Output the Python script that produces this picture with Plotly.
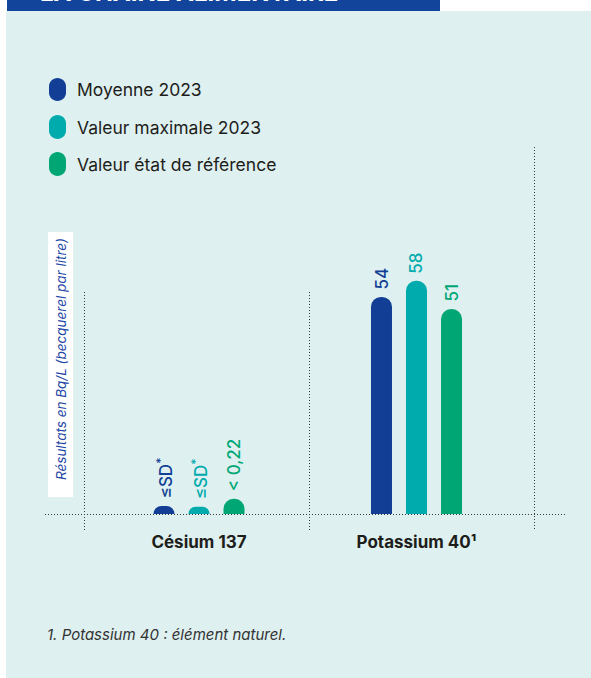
import math
import plotly.graph_objects as go

W, H = 591, 678

# ---- data ----
categories = ["Césium 137", "Potassium 40"]
category_labels = ["<b>Césium 137</b>", "<b>Potassium 40¹</b>"]
series_names = ["Moyenne 2023", "Valeur maximale 2023", "Valeur état de référence"]
moyenne_2023 = [2.0, 54]
valeur_max_2023 = [1.8, 58]
valeur_reference = [3.8, 51]
labels_moyenne = ["≤SD<sup>*</sup>", "54"]
labels_max = ["≤SD<sup>*</sup>", "58"]
labels_reference = ["< 0,22", "51"]
y_title = "Résultats en Bq/L (becquerel par litre)"
header_text = "LA CHAÎNE ALIMENTAIRE"
footnote = "1. Potassium 40 : élément naturel."

colors = ["#123F95", "#00ABAD", "#00A775"]
FONT = "Inter"

series_values = [moyenne_2023, valeur_max_2023, valeur_reference]
series_labels = [labels_moyenne, labels_max, labels_reference]


def px(x):
    return x / W


def py(y):
    return 1 - y / H


def capsule_path(x0, x1, y0, y1, n=16):
    r = (x1 - x0) / 2
    cx = (x0 + x1) / 2
    pts = []
    for i in range(n + 1):
        a = math.pi + math.pi * i / n  # top arc
        pts.append((cx + r * math.cos(a), y0 + r + r * math.sin(a)))
    for i in range(n + 1):
        a = math.pi * i / n  # bottom arc
        pts.append((cx + r * math.cos(a), y1 - r + r * math.sin(a)))
    return "M " + " L ".join(f"{x:.2f},{y:.2f}" for x, y in pts) + " Z"


fig = go.Figure()
for name, vals, col in zip(series_names, series_values, colors):
    fig.add_trace(go.Bar(
        x=categories, y=vals, name=name,
        marker=dict(color=col, cornerradius="50%", line=dict(width=0)),
        showlegend=False, hoverinfo="skip",
    ))

# dummy trace on pixel overlay axes
fig.add_trace(go.Scatter(x=[], y=[], xaxis="x2", yaxis="y2", showlegend=False, hoverinfo="skip"))

base_px = 514
top_px = 147
px_per_unit = 4.02
shapes = []
annotations = []

# panel background
shapes.append(dict(type="rect", xref="paper", yref="paper", x0=px(6), x1=1, y0=0, y1=py(11),
                   fillcolor="#DEF0EF", line=dict(width=0), layer="below"))
# header bar
shapes.append(dict(type="rect", xref="x2", yref="y2", x0=7, x1=440, y0=0, y1=11,
                   fillcolor="#11449A", line=dict(width=0), layer="above"))
annotations.append(dict(xref="paper", yref="paper", x=px(38), y=py(-8), xanchor="left",
                        yanchor="middle", text="<b>" + header_text + "</b>", showarrow=False,
                        font=dict(family=FONT, size=24, color="white")))

# baseline and dividers
dotc = "#3a3a3a"
dash = "1px,2px"
shapes.append(dict(type="line", xref="x2", yref="y2", x0=45, x1=566, y0=514.5, y1=514.5,
                   line=dict(color=dotc, width=1, dash=dash), layer="above"))
for xd, yt in [(84.5, 292), (309.5, 292), (534.5, 147)]:
    shapes.append(dict(type="line", xref="x2", yref="y2", x0=xd, x1=xd, y0=yt, y1=531,
                       line=dict(color=dotc, width=1, dash=dash), layer="above"))

# y title box
shapes.append(dict(type="rect", xref="x2", yref="y2", x0=48, x1=73, y0=232, y1=497,
                   fillcolor="white", line=dict(width=0), layer="above"))
annotations.append(dict(xref="x2", yref="y2", x=61, y=359, textangle=-90, showarrow=False,
                        text="<i>" + y_title + "</i>", xanchor="center", yanchor="middle",
                        font=dict(family=FONT, size=13.5, color="#1F48A6")))

# legend (pills + text)
leg_y = [(78, 101), (115, 139), (152, 176)]
for (y0, y1), name, col in zip(leg_y, series_names, colors):
    shapes.append(dict(type="path", xref="x2", yref="y2", path=capsule_path(49, 66, y0, y1),
                       fillcolor=col, line=dict(width=0), layer="above"))
    annotations.append(dict(xref="x2", yref="y2", x=75, y=(y0 + y1) / 2, xanchor="left",
                            yanchor="middle", text=name, showarrow=False,
                            font=dict(family=FONT, size=17.5, color="#1d1d1b")))

# value labels
offsets = [-35, 0, 35]
for vals, labs, col, off in zip(series_values, series_labels, colors, offsets):
    for cat, v, lab in zip(categories, vals, labs):
        annotations.append(dict(xref="x", yref="y", x=cat, y=v, xshift=off, yshift=5,
                                text=lab, textangle=-90, showarrow=False,
                                xanchor="center", yanchor="bottom",
                                font=dict(family=FONT, size=17, color=col, weight=500)))

# footnote
annotations.append(dict(xref="x2", yref="y2", x=45, y=634, xanchor="left", yanchor="middle",
                        text="<i>" + footnote + "</i>", showarrow=False,
                        font=dict(family=FONT, size=15, color="#333333")))

fig.update_layout(
    width=W, height=H, autosize=False,
    margin=dict(l=0, r=0, t=0, b=0, pad=0),
    paper_bgcolor="white", plot_bgcolor="rgba(0,0,0,0)",
    barmode="group", bargap=0.517, bargroupgap=0.4,
    xaxis=dict(domain=[px(90.25), px(525.25)], type="category", range=[-0.5, 1.5],
               tickvals=categories, ticktext=category_labels,
               tickfont=dict(family=FONT, size=17, color="#1d1d1b"),
               showgrid=False, zeroline=False, showline=False,
               ticks="outside", ticklen=13, tickcolor="rgba(0,0,0,0)", fixedrange=True),
    yaxis=dict(domain=[py(base_px), py(top_px)],
               range=[0, (base_px - top_px) / px_per_unit],
               showgrid=False, zeroline=False, showline=False, showticklabels=False,
               ticks="", fixedrange=True),
    xaxis2=dict(domain=[0, 1], range=[0, W], anchor="y2", visible=False, fixedrange=True),
    yaxis2=dict(domain=[0, 1], range=[H, 0], anchor="x2", visible=False, fixedrange=True),
    shapes=shapes, annotations=annotations,
    font=dict(family=FONT),
)

fig.write_html("out.html", config={"displayModeBar": False})
